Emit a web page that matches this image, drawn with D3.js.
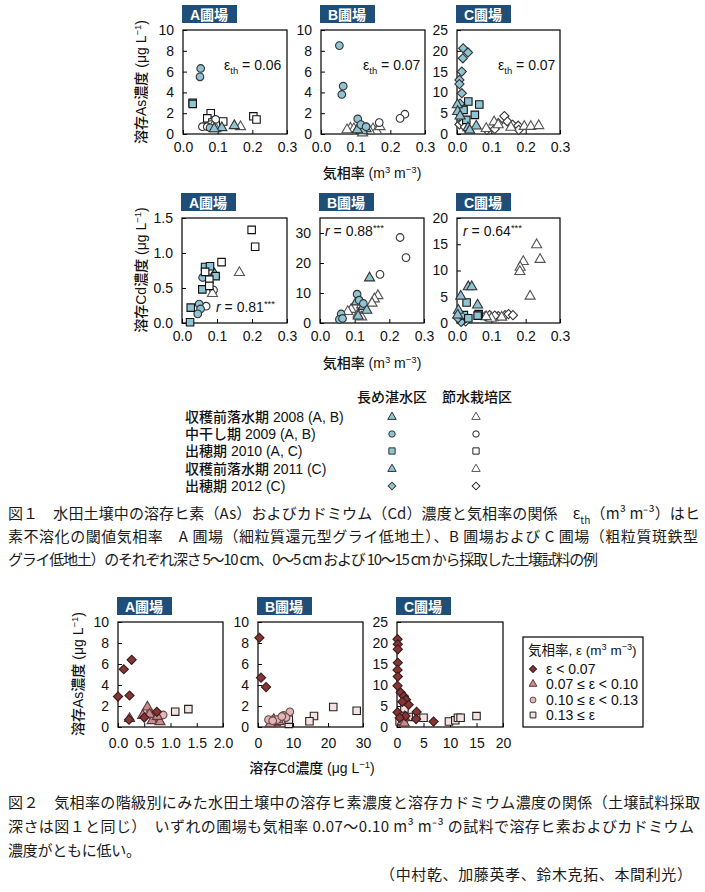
<!DOCTYPE html>
<html><head><meta charset="utf-8">
<script src="https://cdn.jsdelivr.net/npm/d3@7"></script>
<style>
body{margin:0;background:#fff}
text{font-family:"Liberation Sans",Arial,"Noto Sans CJK JP",sans-serif;fill:#111}
.cjk{font-family:"Liberation Sans","Noto Sans CJK JP",sans-serif}
.cap{font-family:"Noto Sans CJK JP",sans-serif;font-size:15px;fill:#1a1a1a}
</style>
</head><body>
<svg id="c" width="705" height="892"></svg>
<script>
// ---------------- DATA ----------------
// Fig.1 top row: dissolved As (μg/L) vs air-filled porosity (m3/m3)
const asA_triFilled = [[0.112,0.6],[0.148,0.8],[0.09,0.5]];
const asA_triOpen   = [[0.166,0.7],[0.095,0.5],[0.085,0.7]];
const asA_cirFilled = [[0.051,6.3],[0.049,5.5],[0.078,0.6]];
const asA_cirOpen   = [[0.056,0.7],[0.094,1.4],[0.08,0.9],[0.07,0.7]];
const asA_sqFilled  = [[0.028,3.0],[0.028,2.9]];
const asA_sqOpen    = [[0.08,2.0],[0.07,1.5],[0.116,1.2],[0.203,1.7],[0.212,1.4],[0.085,1.1]];

const asB_triFilled = [[0.11,0.7],[0.13,0.5],[0.12,0.3],[0.105,0.4]];
const asB_triOpen   = [[0.085,0.55],[0.095,0.5],[0.12,0.1],[0.15,0.5],[0.16,0.3],[0.17,0.7],[0.075,0.4],[0.14,0.3]];
const asB_cirFilled = [[0.053,8.5],[0.064,4.6],[0.06,3.8],[0.106,1.45],[0.115,0.9],[0.13,0.7]];
const asB_cirOpen   = [[0.242,1.9],[0.228,1.5],[0.168,1.1]];

const asC_diaFilled = [[0.018,20.6],[0.032,19.6],[0.017,18.2],[0.014,15],[0.007,13],[0.007,12],[0.014,9.8],[0.009,7.3]];
const asC_triFilled = [[0.001,7],[0.002,5.4],[0.009,4.3],[0.032,1.5],[0.056,1.9],[0.037,0.9]];
const asC_sqFilled  = [[0.033,7.8],[0.065,7.1],[0.019,5.8],[0.052,4.6],[0.027,3.4]];
const asC_diaOpen   = [[0.007,2.3],[0.017,2.7],[0.023,1.7],[0.087,1.0],[0.11,1.2],[0.12,2.6],[0.138,4.3],[0.147,3],[0.162,2.2],[0.178,2.0],[0.18,1.0]];
const asC_triOpen   = [[0.108,2.9],[0.12,2.2],[0.157,1.6],[0.196,1.8],[0.215,1.8],[0.238,2.0],[0.085,1.3]];

// Fig.1 middle row: dissolved Cd (μg/L) vs air-filled porosity
const cdA_sqOpen    = [[0.199,1.33],[0.209,1.09],[0.113,0.87],[0.066,0.73],[0.078,0.62],[0.078,0.53]];
const cdA_sqFilled  = [[0.066,0.8],[0.08,0.81],[0.096,0.67],[0.058,0.48],[0.025,0.22],[0.023,0.01]];
const cdA_cirFilled = [[0.059,0.65],[0.049,0.27],[0.053,0.2],[0.045,0.13]];
const cdA_cirOpen   = [[0.069,0.24],[0.09,0.47],[0.08,0.77]];
const cdA_triOpen   = [[0.164,0.72],[0.087,0.42],[0.082,0.74]];
const cdA_triFilled = [[0.093,0.7]];

const cdB_cirOpen   = [[0.231,28.5],[0.248,21.8],[0.173,16.2]];
const cdB_triFilled = [[0.143,15],[0.125,5.5],[0.135,4.2],[0.11,2.3],[0.105,7]];
const cdB_triOpen   = [[0.167,9.1],[0.157,8],[0.15,6.6],[0.12,6],[0.09,4.5],[0.08,3.8],[0.11,3],[0.12,2]];
const cdB_cirFilled = [[0.107,9.6],[0.113,7.6],[0.125,6.5],[0.061,3],[0.056,1.2],[0.065,1.5]];

const cdC_triOpen   = [[0.232,14.9],[0.242,12.1],[0.193,11.7],[0.184,10.6],[0.183,9.8],[0.213,5.1],[0.1,0.9],[0.13,1.1],[0.085,1.2]];
const cdC_triFilled = [[0.033,6.9],[0.043,6.9],[0.011,5.1],[0.06,3.4],[0.004,2.4],[0.002,1.5]];
const cdC_sqFilled  = [[0.028,3.9],[0.02,1.5],[0.033,0.9],[0.063,1.7],[0.06,1.4]];
const cdC_diaFilled = [[0.005,1.2],[0.01,0.8],[0.015,0.4],[0.008,1.5],[0.02,0.6],[0.012,0.2],[0.003,0.9]];
const cdC_diaOpen   = [[0.082,1.3],[0.095,1.5],[0.12,1.3],[0.14,1.5],[0.15,1.7],[0.163,1.5],[0.015,0.5],[0.11,1.4],[0.025,0.3]];

// Fig.2: As vs Cd by air-filled porosity class
const f2A_lt007  = [[0.26,6.4],[0.11,5.5],[0.0,2.9],[0.22,3.0],[0.21,0.7],[0.74,1.45],[0.5,0.9]];
const f2A_c0710  = [[0.22,0.8],[0.56,1.9],[0.47,1.1],[0.65,0.6],[0.8,0.5],[0.6,1.2],[0.75,1.0]];
const f2A_c1013  = [[0.86,1.15],[0.75,0.6],[0.6,1.3],[0.68,0.9]];
const f2A_ge013  = [[1.09,1.46],[1.34,1.7],[0.72,1.0]];

const f2B_lt007  = [[0.4,8.5],[0.86,4.7],[2.3,3.8]];
const f2B_c0710  = [[4,0.5],[5,0.4],[3.5,0.3],[6,0.5],[4.5,0.7]];
const f2B_c1013  = [[9.1,1.45],[7.3,1.1],[6.3,0.8],[5.4,0.7],[3,0.7],[4.2,0.6],[8,0.9],[6.8,1.0]];
const f2B_ge013  = [[21.5,1.9],[28.2,1.55],[16,1.05],[14.7,0.55],[8.8,0.3],[8.8,0.7]];

const f2C_lt007  = [[0.1,20.9],[0.15,19.7],[0.15,18.5],[0.15,15.3],[0.1,13.6],[0.15,12],[0.1,9.8],[0.7,8.2],[1.3,7.3],[1.7,6.5],[2.2,5.3],[1,6],[3.7,3.6],[3.6,1.9],[6.9,1.3],[0.1,3.5],[1.6,2.6],[0.5,2.2]];
const f2C_c0710  = [[1.4,2.4],[1,1.3],[1.4,0.9]];
const f2C_c1013  = [[1.3,1.5]];
const f2C_ge013  = [[1.4,4.4],[0.5,1.3],[5,2.2],[9.8,1.3],[11,1.6],[11.5,2.2],[12,2.2],[15,2.6],[2.2,2.4]];

// tick labels / text
const ticksAir = [0,0.1,0.2,0.3];
const ticksAs10 = [0,2,4,6,8,10];
const ticksAs25 = [0,5,10,15,20,25];
const ticksCdA = [0,0.5,1.0,1.5];
const ticksCdB = [0,10,20,30];
const ticksCdC = [0,5,10,15,20];
const ticksF2A = [0,0.5,1.0,1.5,2.0];
const ticksF2B = [0,10,20,30];
const ticksF2C = [0,5,10,15,20];
const fieldNames = ['A圃場','B圃場','C圃場'];
const epsTh = ['0.06','0.07','0.07'];
const rVals = ['0.81','0.88','0.64'];
const legendHeaders = ['長め湛水区','節水栽培区'];
const legendRows = ['収穫前落水期 2008 (A, B)','中干し期 2009 (A, B)','出穂期 2010 (A, C)','収穫前落水期 2011 (C)','出穂期 2012 (C)'];
const legendShapes = ['tri','cir','sq','tri','dia'];
const classLabels = ['ε < 0.07','0.07 ≤ ε < 0.10','0.10 ≤ ε < 0.13','0.13 ≤ ε'];
const cap1 = [
  [{t:'図１　水田土壌中の溶存ヒ素（As）およびカドミウム（Cd）濃度と気相率の関係　ε'},{t:'th',sub:true},{t:'（m³ m⁻³）はヒ'}],
  [{t:'素不溶化の閾値気相率　A 圃場（細粒質還元型グライ低地土）、B 圃場および C 圃場（粗粒質斑鉄型'}],
  [{t:'グライ低地土）のそれぞれ深さ 5～10 cm、0～5 cm および 10～15 cm から採取した土壌試料の例'}]
];
const cap2 = [
  [{t:'図２　気相率の階級別にみた水田土壌中の溶存ヒ素濃度と溶存カドミウム濃度の関係（土壌試料採取'}],
  [{t:'深さは図１と同じ）　いずれの圃場も気相率 0.07～0.10 m³ m⁻³ の試料で溶存ヒ素およびカドミウム'}],
  [{t:'濃度がともに低い。'}]
];
const authors = '（中村乾、加藤英孝、鈴木克拓、本間利光）';

// ---------------- STYLE ----------------
const BLUE = '#8fc4d4', BADGE = '#1f4e79';
const C_LT = '#853535', C_0710 = '#c98b8b', C_1013 = '#e2b6b6', C_GE = '#f6e1e1';
const st = {
  triF:{shape:'tri',fill:BLUE,stroke:'#333'}, triO:{shape:'tri',fill:'#fff',stroke:'#555'},
  cirF:{shape:'cir',fill:BLUE,stroke:'#333'}, cirO:{shape:'cir',fill:'#fff',stroke:'#333'},
  sqF:{shape:'sq',fill:BLUE,stroke:'#111'},   sqO:{shape:'sq',fill:'#fff',stroke:'#111'},
  diaF:{shape:'dia',fill:BLUE,stroke:'#333'}, diaO:{shape:'dia',fill:'#fff',stroke:'#333'},
  lt:{shape:'dia',fill:C_LT,stroke:'#3a1a1a'}, c0710:{shape:'tri',fill:C_0710,stroke:'#5a3a3a'},
  c1013:{shape:'cir',fill:C_1013,stroke:'#6a4a4a'}, ge:{shape:'sq',fill:C_GE,stroke:'#222'}
};
const sizes = {tri:44, cir:46, sq:56, dia:42};
function symPath(shape, scale=1){
  const t = {tri:d3.symbolTriangle, cir:d3.symbolCircle, sq:d3.symbolSquare, dia:d3.symbolSquare}[shape];
  return d3.symbol(t, sizes[shape]*scale)();
}

const svg = d3.select('#c');
svg.append('rect').attr('width',705).attr('height',892).attr('fill','#fff');

function rich(sel, parts, base){
  let cur = 0;
  parts.forEach(p=>{
    const target = p.sup ? -base*0.38 : p.sub ? base*0.3 : 0;
    const ts = sel.append('tspan').attr('dy', target-cur).text(p.t);
    cur = target;
    if(p.sup||p.sub) ts.style('font-size',(base*0.68)+'px');
    if(p.it) ts.style('font-style','italic');
  });
}

function panel(cfg){
  const xs = d3.scaleLinear().domain(cfg.xDom).range([cfg.x0,cfg.x1]);
  const ys = d3.scaleLinear().domain(cfg.yDom).range([cfg.y1,cfg.y0]);
  const g = svg.append('g');
  g.append('rect').attr('x',cfg.x0-1).attr('y',cfg.y0-25).attr('width',55).attr('height',18).attr('fill',BADGE);
  g.append('text').attr('x',cfg.x0+26).attr('y',cfg.y0-10.5).attr('text-anchor','middle')
    .attr('class','cjk').style('fill','#fff').style('font-weight','bold').style('font-size','14px').text(cfg.badge);
  const ya = d3.axisLeft(ys).tickValues(cfg.yTicks).tickFormat(cfg.yFmt).tickSizeInner(-4).tickSizeOuter(0).tickPadding(9);
  const xa = d3.axisBottom(xs).tickValues(cfg.xTicks).tickFormat(cfg.xFmt).tickSizeInner(-4).tickSizeOuter(0).tickPadding(cfg.xPad);
  [g.append('g').attr('transform',`translate(${cfg.x0},0)`).call(ya),
   g.append('g').attr('transform',`translate(0,${cfg.y1})`).call(xa)].forEach(a=>{
    a.select('.domain').remove();
    a.selectAll('line').attr('stroke','#000');
    a.selectAll('text').style('font-size','14px').style('font-family','"Liberation Sans",Arial,sans-serif').attr('fill','#111');
  });
  g.append('rect').attr('x',cfg.x0).attr('y',cfg.y0).attr('width',cfg.x1-cfg.x0).attr('height',cfg.y1-cfg.y0)
    .attr('fill','none').attr('stroke','#000').attr('stroke-width',1.2);
  cfg.series.forEach(([data,s])=>{
    g.append('g').selectAll('path').data(data).join('path')
      .attr('transform',d=>`translate(${xs(d[0])},${ys(d[1])})${s.shape==='dia'?' rotate(45)':''}`)
      .attr('d',symPath(s.shape)).attr('fill',s.fill).attr('stroke',s.stroke).attr('stroke-width',1.1);
  });
  return g;
}

const f1 = d3.format('.1f'), f0 = d3.format('d');
const colsTop = [[183,287],[321,425],[457,560]];
const colsMid = [[182,287],[320,424],[457,560]];

// Fig 1 top
panel({x0:183,x1:287,y0:30,y1:134,xDom:[0,0.3],yDom:[0,10],xTicks:ticksAir,yTicks:ticksAs10,xFmt:f1,yFmt:f0,xPad:8,badge:fieldNames[0],
  series:[[asA_sqOpen,st.sqO],[asA_cirOpen,st.cirO],[asA_triOpen,st.triO],[asA_sqFilled,st.sqF],[asA_cirFilled,st.cirF],[asA_triFilled,st.triF]]});
panel({x0:321,x1:425,y0:30,y1:134,xDom:[0,0.3],yDom:[0,10],xTicks:ticksAir,yTicks:ticksAs10,xFmt:f1,yFmt:f0,xPad:8,badge:fieldNames[1],
  series:[[asB_triOpen,st.triO],[asB_cirOpen,st.cirO],[asB_triFilled,st.triF],[asB_cirFilled,st.cirF]]});
panel({x0:457,x1:560,y0:30,y1:134,xDom:[0,0.3],yDom:[0,25],xTicks:ticksAir,yTicks:ticksAs25,xFmt:f1,yFmt:f0,xPad:8,badge:fieldNames[2],
  series:[[asC_diaOpen,st.diaO],[asC_triOpen,st.triO],[asC_diaFilled,st.diaF],[asC_sqFilled,st.sqF],[asC_triFilled,st.triF]]});
// Fig 1 middle
panel({x0:182,x1:287,y0:218,y1:323,xDom:[0,0.3],yDom:[0,1.5],xTicks:ticksAir,yTicks:ticksCdA,xFmt:f1,yFmt:f1,xPad:8,badge:fieldNames[0],
  series:[[cdA_cirOpen,st.cirO],[cdA_triOpen,st.triO],[cdA_cirFilled,st.cirF],[cdA_triFilled,st.triF],[cdA_sqFilled,st.sqF],[cdA_sqOpen,st.sqO]]});
panel({x0:320,x1:424,y0:218,y1:323,xDom:[0,0.3],yDom:[0,35],xTicks:ticksAir,yTicks:ticksCdB,xFmt:f1,yFmt:f0,xPad:8,badge:fieldNames[1],
  series:[[cdB_triOpen,st.triO],[cdB_cirOpen,st.cirO],[cdB_triFilled,st.triF],[cdB_cirFilled,st.cirF]]});
panel({x0:457,x1:560,y0:218,y1:323,xDom:[0,0.3],yDom:[0,20],xTicks:ticksAir,yTicks:ticksCdC,xFmt:f1,yFmt:f0,xPad:8,badge:fieldNames[2],
  series:[[cdC_diaOpen,st.diaO],[cdC_triOpen,st.triO],[cdC_diaFilled,st.diaF],[cdC_sqFilled,st.sqF],[cdC_triFilled,st.triF]]});
// Fig 2
panel({x0:118,x1:223,y0:622,y1:727,xDom:[0,2],yDom:[0,10],xTicks:ticksF2A,yTicks:ticksAs10,xFmt:f1,yFmt:f0,xPad:11,badge:fieldNames[0],
  series:[[f2A_ge013,st.ge],[f2A_c1013,st.c1013],[f2A_c0710,st.c0710],[f2A_lt007,st.lt]]});
panel({x0:258,x1:363,y0:622,y1:727,xDom:[0,30],yDom:[0,10],xTicks:ticksF2B,yTicks:ticksAs10,xFmt:f0,yFmt:f0,xPad:11,badge:fieldNames[1],
  series:[[f2B_ge013,st.ge],[f2B_c0710,st.c0710],[f2B_c1013,st.c1013],[f2B_lt007,st.lt]]});
panel({x0:397,x1:503,y0:622,y1:727,xDom:[0,20],yDom:[0,25],xTicks:ticksF2C,yTicks:ticksAs25,xFmt:f0,yFmt:f0,xPad:11,badge:fieldNames[2],
  series:[[f2C_ge013,st.ge],[f2C_c1013,st.c1013],[f2C_c0710,st.c0710],[f2C_lt007,st.lt]]});

// panel annotations
const epsX = [224,363,498];
epsTh.forEach((v,i)=>{
  const t = svg.append('text').attr('x',epsX[i]).attr('y',70).style('font-size','14px');
  rich(t,[{t:'ε'},{t:'th',sub:true},{t:' = '+v}],14);
});
const rPos = [[216,312],[325,236],[463,236]];
rVals.forEach((v,i)=>{
  const t = svg.append('text').attr('x',rPos[i][0]).attr('y',rPos[i][1]).style('font-size','14px');
  rich(t,[{t:'r',it:true},{t:' = '+v},{t:'***',sup:true}],14);
});

// axis titles
function xTitle(x,y,parts){
  const t = svg.append('text').attr('x',x).attr('y',y).attr('text-anchor','middle').attr('class','cjk').style('font-size','14px').style('font-weight','500');
  rich(t,parts,14);
}
function yTitle(x,y,parts){
  const t = svg.append('text').attr('transform',`translate(${x},${y}) rotate(-90)`).attr('text-anchor','middle').attr('class','cjk').style('font-size','14px').style('font-weight','500');
  rich(t,parts,14);
}
const airTitle = [{t:'気相率 (m'},{t:'3',sup:true},{t:' m'},{t:'−3',sup:true},{t:')'}];
xTitle(372,178,airTitle);
xTitle(372,368,airTitle);
xTitle(312,773,[{t:'溶存Cd濃度 (μg L'},{t:'−1',sup:true},{t:')'}]);
yTitle(146,82,[{t:'溶存As濃度 (μg L'},{t:'−1',sup:true},{t:')'}]);
yTitle(146,270,[{t:'溶存Cd濃度 (μg L'},{t:'−1',sup:true},{t:')'}]);
yTitle(83,674,[{t:'溶存As濃度 (μg L'},{t:'−1',sup:true},{t:')'}]);

// Fig 1 legend
const lg = svg.append('g').attr('class','cjk');
[357,442].forEach((x,i)=>lg.append('text').attr('x',x).attr('y',402).attr('class','cjk').style('font-size','14px').style('font-weight','500').text(legendHeaders[i]));
const rowY = [417,434,451,469,486];
legendRows.forEach((r,i)=>{
  lg.append('text').attr('x',185).attr('y',rowY[i]+5).attr('class','cjk').style('font-size','14px').style('font-weight','500').text(r);
  const sh = legendShapes[i];
  [[392,BLUE,'#333'],[476,'#fff',sh==='tri'?'#555':'#222']].forEach(([x,f,s])=>{
    lg.append('path').attr('transform',`translate(${x},${rowY[i]})${sh==='dia'?' rotate(45)':''}`)
      .attr('d',symPath(sh,0.7)).attr('fill',f).attr('stroke',s).attr('stroke-width',1);
  });
});

// Fig 2 legend
const l2 = svg.append('g');
l2.append('rect').attr('x',523).attr('y',637).attr('width',120).attr('height',90).attr('fill','#fff').attr('stroke','#000').attr('stroke-width',1.2);
const lt2 = l2.append('text').attr('x',528).attr('y',655).attr('class','cjk').style('font-size','13.5px');
rich(lt2,[{t:'気相率, ε (m'},{t:'3',sup:true},{t:' m'},{t:'−3',sup:true},{t:')'}],13.5);
const clsStyles = [st.lt,st.c0710,st.c1013,st.ge];
const row2Y = [669,684,700,715];
classLabels.forEach((c,i)=>{
  const s = clsStyles[i];
  l2.append('path').attr('transform',`translate(533,${row2Y[i]})${s.shape==='dia'?' rotate(45)':''}`)
    .attr('d',symPath(s.shape,0.6)).attr('fill',s.fill).attr('stroke',s.stroke).attr('stroke-width',1);
  l2.append('text').attr('x',546).attr('y',row2Y[i]+5).style('font-size','14px').text(c);
});

// captions
function capLine(x,y,parts,len,anchor){
  const t = svg.append('text').attr('x',x).attr('y',y).attr('class','cap');
  if(len) t.attr('textLength',len).attr('lengthAdjust','spacing');
  if(anchor) t.attr('text-anchor',anchor);
  rich(t,parts,15);
}
const cap1Y = [519,542,565], cap1L = [692,690,590];
cap1.forEach((p,i)=>capLine(8,cap1Y[i],p,cap1L[i]));
const cap2Y = [808,832,856], cap2L = [692,686,133];
cap2.forEach((p,i)=>capLine(8,cap2Y[i],p,cap2L[i]));
capLine(380,880,[{t:authors}],312);
</script>
</body></html>
